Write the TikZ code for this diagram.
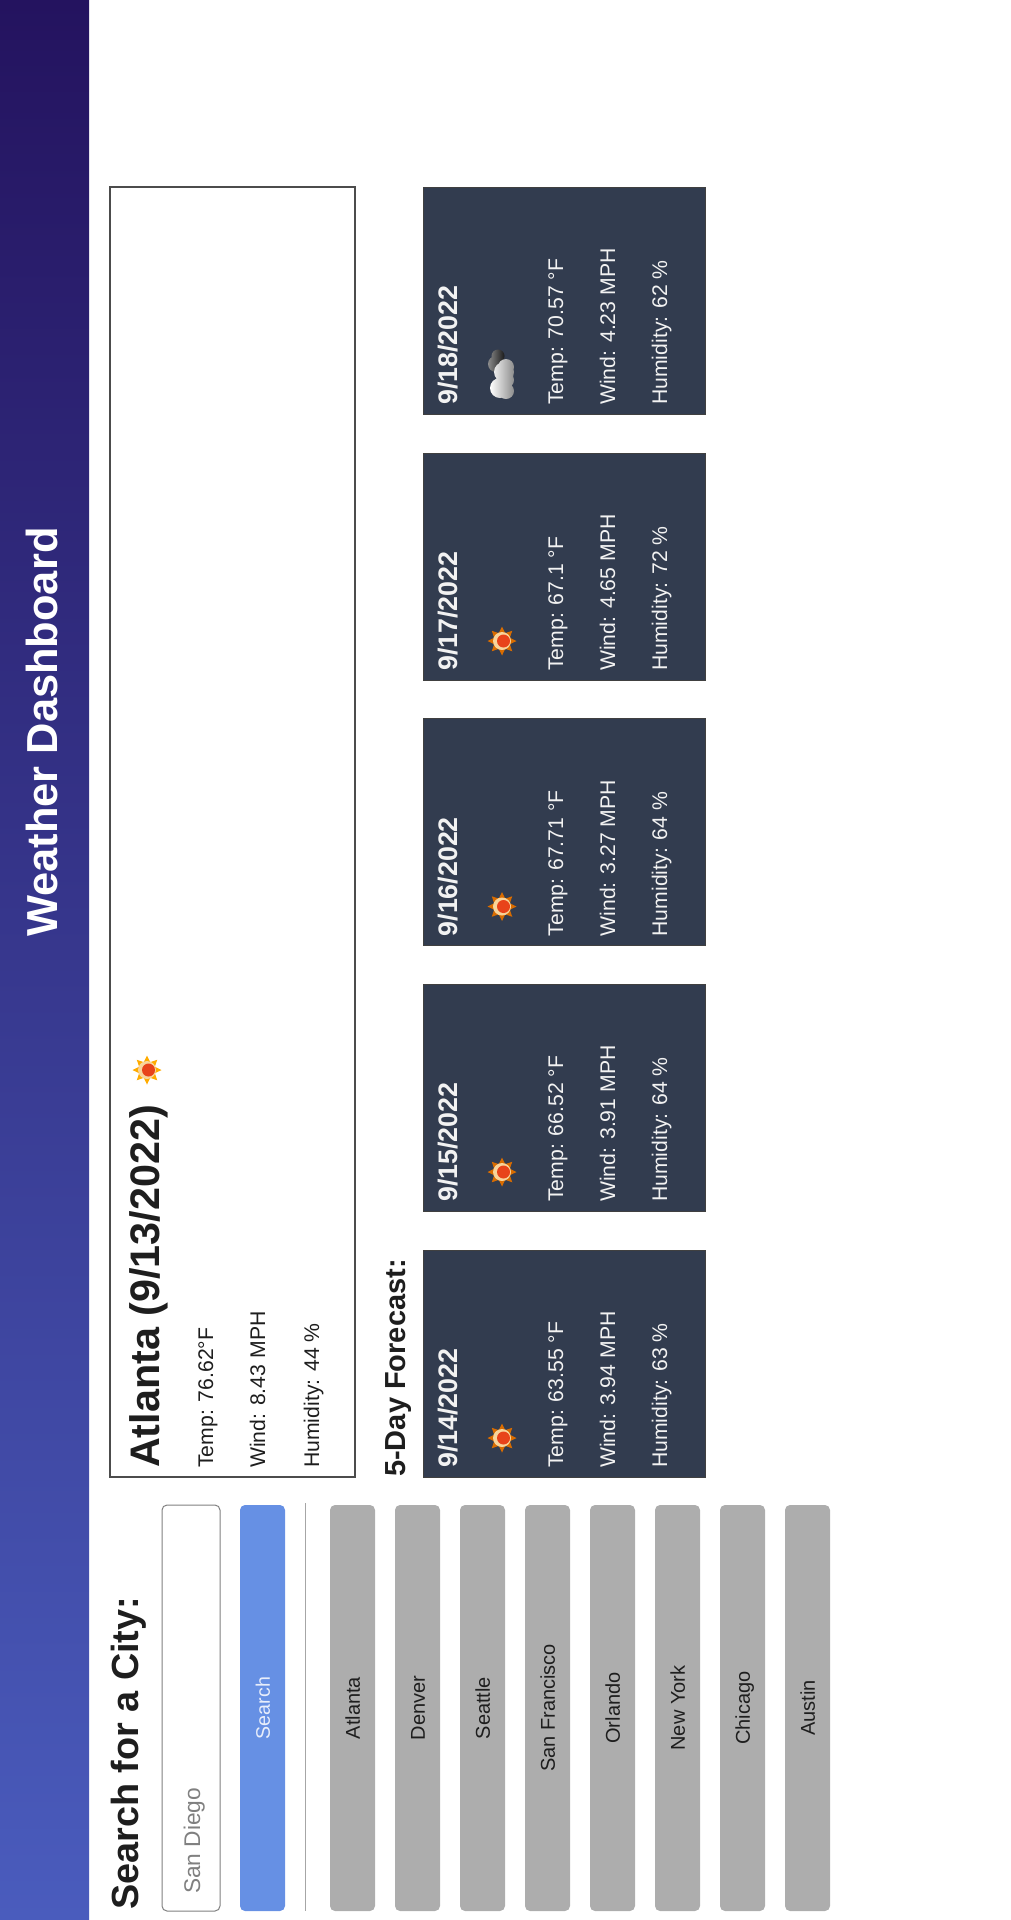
\documentclass[tikz,border=0pt]{standalone}
\usepackage{fontspec}
\setmainfont{Liberation Sans}
\usetikzlibrary{shapes.geometric}

\definecolor{navyTop}{HTML}{24135F}
\definecolor{navyBot}{HTML}{4A5CBD}
\definecolor{slateCard}{HTML}{323C4F}
\definecolor{cityGray}{HTML}{ADADAD}
\definecolor{searchBlue}{HTML}{6690E4}
\definecolor{inkDark}{HTML}{1E1E1E}
\definecolor{sunRed}{HTML}{E8431A}
\definecolor{sunCream}{HTML}{F8D49A}

\newcommand{\fsize}[1]{\fontsize{#1}{#1}\selectfont}
\newcommand{\sunicon}[3]{%
  \node[sun rays,fill=#3] (#1Rays) at (#2) {};
  \node[sun disc] (#1Disc) at (#2) {};
  \node[sun core] (#1Core) [xshift=1.5pt] at (#2) {};
}

\begin{document}
\begin{tikzpicture}[x=1pt,y=-1pt,node distance=65pt,
  city button/.style={rectangle,rounded corners=5pt,fill=cityGray,rotate=90,
    minimum width=406pt,minimum height=45pt,inner sep=0pt,text height=14.5pt,
    text depth=0pt,text=inkDark,font=\fsize{20}},
  day card/.style={rectangle,draw=black!75,line width=1pt,fill=slateCard,
    minimum width=282pt,minimum height=227pt,inner sep=0pt},
  info line/.style={rotate=90,anchor=base west,inner sep=0pt,font=\fsize{21.2}},
  card line/.style={info line,text=white!95!black},
  card date/.style={card line,font=\bfseries\fsize{26.8}},
  sun rays/.style={star,star points=8,star point ratio=1.7,minimum size=29pt,
    inner sep=0pt},
  sun disc/.style={circle,fill=sunCream,minimum size=18pt,inner sep=0pt},
  sun core/.style={circle,fill=sunRed,minimum size=13pt,inner sep=0pt}]

  \useasboundingbox (0,0) rectangle (1010,1920);

  % banner
  \shade[top color=navyTop,bottom color=navyBot] (0,0) rectangle (89,1920);
  \node[rotate=90,anchor=base,inner sep=0pt,text=white,font=\bfseries\fsize{43.4}]
    (Title) at (57,732) {Weather Dashboard};

  % search column
  \node[info line,text=inkDark,font=\bfseries\fsize{37.8}] (SearchHead) at (138.5,1910) {Search for a City:};
  \node[rectangle,rounded corners=5pt,draw=black!50,line width=1pt,fill=white,
    minimum width=406pt,minimum height=58pt,rotate=90] (CityInput) at (191,1708) {};
  \node[info line,text=black!50,font=\fsize{22.7}] (CityHint) at (200,1894) {San Diego};
  \node[city button,fill=searchBlue,text=white!85!searchBlue,font=\fsize{19.6}] (Search) at (262.5,1708) {Search};
  \coordinate (RuleTop) at (305.5,1503);
  \coordinate (RuleEnd) at (305.5,1911);
  \draw[black!35,line width=1pt] (RuleTop) -- (RuleEnd);

  \node[city button] (Atlanta) at (352.5,1708) {Atlanta};
  \node[city button] (Denver) [below of=Atlanta] {Denver};
  \node[city button] (Seattle) [below of=Denver] {Seattle};
  \node[city button] (SanFran) [below of=Seattle] {San Francisco};
  \node[city button] (Orlando) [below of=SanFran] {Orlando};
  \node[city button] (NewYork) [below of=Orlando] {New York};
  \node[city button] (Chicago) [below of=NewYork] {Chicago};
  \node[city button] (Austin) [below of=Chicago] {Austin};

  % today
  \node[rectangle,draw=black!70,line width=1.2pt,fill=white,inner sep=0pt,
    minimum width=245pt,minimum height=1290pt] (Today) at (232.5,832) {};
  \node[info line,text=inkDark,font=\bfseries\fsize{41.3}] (TodayHead) at (159,1468) {Atlanta (9/13/2022)};
  \sunicon{Today}{147,1070}{orange!65!yellow}
  \node[info line,text=inkDark] (TodayTemp) at (213,1468) {Temp: 76.62°F};
  \node[info line,text=inkDark] (TodayWind) at (265,1468) {Wind: 8.43 MPH};
  \node[info line,text=inkDark] (TodayHum) at (319,1468) {Humidity: 44 \%};

  % forecast
  \node[info line,text=inkDark,font=\bfseries\fsize{29}] (ForecastHead) at (405,1477) {5-Day Forecast:};

  \node[day card] (DayA) at (564,1363.5) {};
  \node[card date] (DateA) at (457,1468) {9/14/2022};
  \sunicon{DayA}{502,1438}{orange!85!black}
  \node[card line] (TempA) at (563,1468) {Temp: 63.55 °F};
  \node[card line] (WindA) at (615,1468) {Wind: 3.94 MPH};
  \node[card line] (HumA) at (667,1468) {Humidity: 63 \%};

  \node[day card] (DayB) at (564,1097.5) {};
  \node[card date] (DateB) at (457,1202) {9/15/2022};
  \sunicon{DayB}{502,1172}{orange!85!black}
  \node[card line] (TempB) at (563,1202) {Temp: 66.52 °F};
  \node[card line] (WindB) at (615,1202) {Wind: 3.91 MPH};
  \node[card line] (HumB) at (667,1202) {Humidity: 64 \%};

  \node[day card] (DayC) at (564,832) {};
  \node[card date] (DateC) at (457,936.5) {9/16/2022};
  \sunicon{DayC}{502,906.5}{orange!85!black}
  \node[card line] (TempC) at (563,936.5) {Temp: 67.71 °F};
  \node[card line] (WindC) at (615,936.5) {Wind: 3.27 MPH};
  \node[card line] (HumC) at (667,936.5) {Humidity: 64 \%};

  \node[day card] (DayD) at (564,566.5) {};
  \node[card date] (DateD) at (457,671) {9/17/2022};
  \sunicon{DayD}{502,641}{orange!85!black}
  \node[card line] (TempD) at (563,671) {Temp: 67.1 °F};
  \node[card line] (WindD) at (615,671) {Wind: 4.65 MPH};
  \node[card line] (HumD) at (667,671) {Humidity: 72 \%};

  \node[day card] (DayE) at (564,300.5) {};
  \node[card date] (DateE) at (457,405) {9/18/2022};
  % cloud, dark one behind the white one
  \shade[left color=black!45,right color=black!90]
    (496,364) circle (8) (498,356) circle (6.5);
  \shade[left color=white,middle color=white,right color=black!45]
    (500,388) circle (10) (504,372) circle (10) (506,391) circle (8)
    (506,367) circle (8) (506,372) circle (8) (506,380) circle (8);
  \node[card line] (TempE) at (563,405) {Temp: 70.57 °F};
  \node[card line] (WindE) at (615,405) {Wind: 4.23 MPH};
  \node[card line] (HumE) at (667,405) {Humidity: 62 \%};
\end{tikzpicture}
\end{document}
